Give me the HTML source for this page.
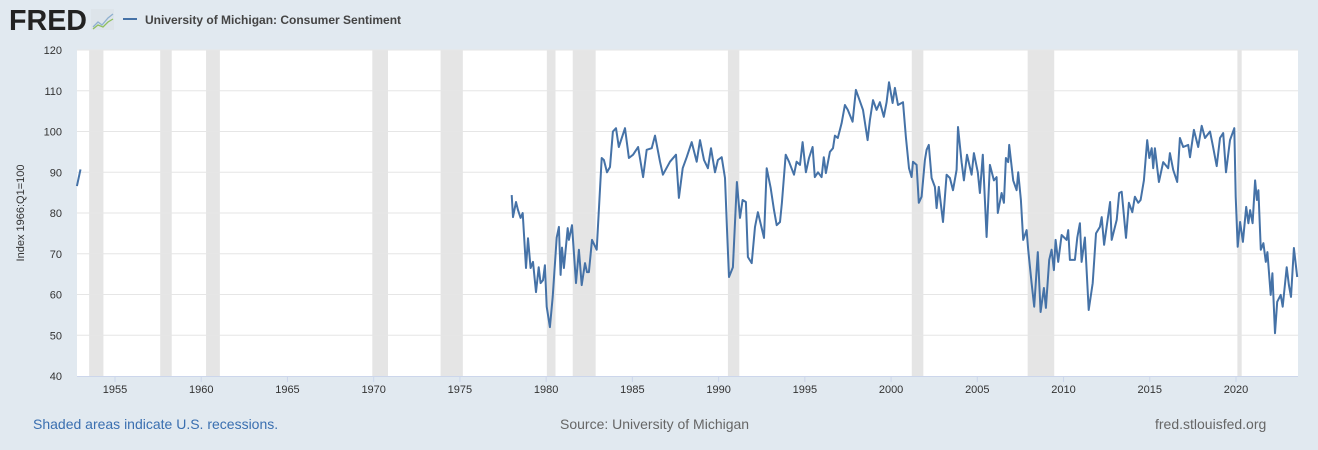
<!DOCTYPE html>
<html><head><meta charset="utf-8"><style>
body{margin:0;background:#e1e9f0;font-family:"Liberation Sans",Arial,sans-serif;}
svg{display:block}
</style></head><body>
<svg id="c" width="1318" height="450" viewBox="0 0 1318 450">
<rect x="0" y="0" width="1318" height="450" fill="#e1e9f0"/>
<g>
<text x="9" y="30" font-size="29" font-weight="bold" fill="#222" textLength="78" lengthAdjust="spacingAndGlyphs">FRED</text>
<rect x="91" y="9" width="23" height="21" fill="#dde4ea"/>
<polyline points="93,27 98,22 102,25 108,18 113,14" fill="none" stroke="#8fb0d0" stroke-width="1.3"/>
<polyline points="93,29 98,25 103,27 108,22 113,19" fill="none" stroke="#8fbf5f" stroke-width="1.3"/>
</g>
<line x1="123" y1="19" x2="137" y2="19" stroke="#4572a7" stroke-width="2"/>
<text x="145" y="24" font-size="12" font-weight="bold" fill="#444">University of Michigan: Consumer Sentiment</text>
<rect x="77" y="50" width="1221" height="326" fill="#fff"/>
<g id="rec"></g><g id="grid"></g><g id="yt"></g><g id="xt"></g><g id="ser"></g>
<text transform="translate(24,213) rotate(-90)" text-anchor="middle" font-size="11" fill="#333">Index 1966:Q1=100</text>
<text x="33" y="429" font-size="14" fill="#3a6fb0">Shaded areas indicate U.S. recessions.</text>
<text x="560" y="429" font-size="14" fill="#666">Source: University of Michigan</text>
<text x="1155" y="429" font-size="14" fill="#666">fred.stlouisfed.org</text>
</svg>
<script>
const yTicks=[40,50,60,70,80,90,100,110,120];
const xTicks=[1955,1960,1965,1970,1975,1980,1985,1990,1995,2000,2005,2010,2015,2020];
const recStart=[1953.5,1957.62,1960.28,1969.92,1973.88,1980.04,1981.54,1990.54,2001.2,2007.92,2020.08];
const recEnd=[1954.33,1958.29,1961.08,1970.83,1975.17,1980.54,1982.87,1991.2,2001.87,2009.46,2020.33];
const earlyDates=[1952.79,1953.0];
const earlyValues=[86.6,90.7];
const dates=[1978.00,1978.08,1978.25,1978.37,1978.52,1978.64,1978.83,1978.95,1979.10,1979.24,1979.41,1979.57,1979.68,1979.82,1979.93,1980.03,1980.22,1980.38,1980.61,1980.74,1980.84,1980.92,1981.03,1981.25,1981.32,1981.50,1981.73,1981.90,1982.06,1982.25,1982.37,1982.48,1982.66,1982.93,1983.22,1983.35,1983.53,1983.70,1983.87,1984.05,1984.21,1984.57,1984.80,1985.04,1985.33,1985.62,1985.83,1986.12,1986.31,1986.60,1986.77,1987.18,1987.53,1987.70,1987.92,1988.15,1988.44,1988.73,1988.92,1989.15,1989.38,1989.56,1989.79,1989.96,1990.18,1990.37,1990.48,1990.60,1990.83,1991.06,1991.24,1991.39,1991.58,1991.70,1991.92,1992.11,1992.28,1992.50,1992.63,1992.79,1993.02,1993.21,1993.37,1993.56,1993.67,1993.89,1994.08,1994.37,1994.52,1994.72,1994.87,1995.06,1995.24,1995.45,1995.58,1995.76,1995.97,1996.10,1996.22,1996.45,1996.63,1996.74,1996.91,1997.13,1997.32,1997.49,1997.77,1997.96,1998.13,1998.37,1998.64,1998.77,1998.95,1999.16,1999.35,1999.58,1999.74,1999.88,2000.09,2000.22,2000.40,2000.69,2000.86,2001.04,2001.19,2001.27,2001.48,2001.61,2001.77,2001.96,2002.06,2002.19,2002.35,2002.54,2002.64,2002.77,2003.01,2003.22,2003.41,2003.59,2003.80,2003.88,2004.09,2004.22,2004.40,2004.67,2004.80,2005.03,2005.15,2005.32,2005.54,2005.73,2005.96,2006.12,2006.19,2006.41,2006.54,2006.66,2006.79,2006.85,2007.08,2007.28,2007.37,2007.53,2007.66,2007.86,2007.95,2008.15,2008.30,2008.51,2008.67,2008.86,2008.98,2009.17,2009.31,2009.44,2009.54,2009.69,2009.89,2010.18,2010.27,2010.37,2010.66,2010.80,2010.95,2011.05,2011.24,2011.46,2011.69,2011.88,2012.11,2012.21,2012.35,2012.70,2012.79,2013.08,2013.23,2013.37,2013.62,2013.79,2013.99,2014.14,2014.33,2014.47,2014.66,2014.85,2014.97,2015.11,2015.20,2015.30,2015.53,2015.78,2016.07,2016.17,2016.36,2016.59,2016.75,2016.94,2017.23,2017.33,2017.56,2017.81,2018.01,2018.20,2018.49,2018.65,2018.88,2019.07,2019.26,2019.42,2019.65,2019.90,2019.98,2020.10,2020.24,2020.40,2020.59,2020.72,2020.82,2020.96,2021.11,2021.21,2021.30,2021.44,2021.59,2021.73,2021.82,2022.01,2022.11,2022.26,2022.39,2022.59,2022.71,2022.94,2023.07,2023.19,2023.36,2023.55];
const values=[84.4,79,82.7,80.7,78.8,80,66.5,73.8,66.5,68,60.6,66.7,62.8,63.5,67.2,57,52,59.4,74,76.6,64.8,71.5,66.5,76.3,73.4,77,62.8,71,62.3,67.7,65.5,65.5,73.4,71,93.5,93,90,91.3,100,100.8,96.2,100.8,93.5,94.3,96.2,88.8,95.5,95.9,99,92.6,89.4,92.6,94.3,83.7,91,93.7,97.4,92.6,97.9,93,91,95.9,90,93,93.7,88.6,76.6,64.3,66.7,87.6,78.8,83.2,82.7,69.2,67.7,76.6,80.2,76.3,73.9,91,86.1,80.7,77,77.8,82.5,94.3,92.6,89.4,92.6,91.8,97.4,90,93.5,96.2,88.8,90,88.8,93.7,89.8,95,95.9,99,98.4,102,106.5,105.3,102.4,110.2,108.2,105.3,97.9,102.8,107.7,105.3,107.2,103.6,107.2,112.1,107,110.7,106.5,107.2,98.6,91,88.8,92.6,91.8,82.5,84,93,95.5,96.7,88.6,86.4,81.2,86.4,77.8,89.4,88.6,85.6,90.6,101.1,92.5,88,94.3,89.4,94.7,90,84.9,94.3,74.1,91.8,88,88.8,80,84.9,82.5,93.5,92.5,96.7,88,85.6,90,83.2,73.4,75.8,71,62.8,57,70.4,55.7,61.6,56.7,68.5,71,66,73.4,68,74.6,73.4,75.8,68.5,68.5,74,77.5,68,74,56.2,62.8,75,76.6,79,72.2,82.7,73.4,78.3,84.9,85.2,73.9,82.5,80.2,84,82.5,83.2,88,97.9,93.5,95.9,91,95.9,87.6,92.5,91,94.7,90.6,87.6,98.4,96.2,96.7,93.7,100.4,96.2,101.4,98.4,100,96.7,91.5,98.4,99.6,90,97.9,100.8,84,71.7,77.8,72.9,81.5,77.5,80.7,77.5,88,83.2,85.6,71,72.6,68,70.4,59.9,65.2,50.5,58.2,59.9,57,66.7,62.3,59.4,71.4,64.3];

const X0=77,X1=1298,Y0=376,Y1=50;
const T0=1952.797,T1=2023.595;
function xs(t){return X0+(t-T0)/(T1-T0)*(X1-X0);}
function ys(v){return Y0-(v-40)/(120-40)*(Y0-Y1);}
const NS='http://www.w3.org/2000/svg';
function mk(tag,parent,attrs){const e=document.createElementNS(NS,tag);for(const k in attrs)e.setAttribute(k,attrs[k]);parent.appendChild(e);return e;}

const rec=document.getElementById('rec');
for(let i=0;i<recStart.length;i++){
  const a=Math.max(xs(recStart[i]),X0),b=xs(recEnd[i]);
  const r=mk('rect',rec,{x:a,y:Y1,width:b-a,height:Y0-Y1,fill:'#e5e5e5'});
  
  
}
const grid=document.getElementById('grid'),yt=document.getElementById('yt');
yTicks.forEach(v=>{
  const y=ys(v);
  if(v>40){const l=mk('line',grid,{x1:X0,x2:X1,y1:y,y2:y,stroke:'#e6e6e6','stroke-width':1});
  
  }
  const t=mk('text',yt,{x:62,y:y+4,'text-anchor':'end','font-size':11,fill:'#333'});
  t.textContent=v;
  
  
});
const xt=document.getElementById('xt');
const ax=mk('line',xt,{x1:X0,x2:X1,y1:Y0+0.5,y2:Y0+0.5,stroke:'#ccd6eb','stroke-width':1});


xTicks.forEach(yr=>{
  const x=xs(yr);
  const tk=mk('line',xt,{x1:x,x2:x,y1:Y0,y2:Y0+6,stroke:'#ccd6eb'});
  
  
  const t=mk('text',xt,{x:x,y:Y0+17,'text-anchor':'middle','font-size':11,fill:'#333'});
  t.textContent=yr;
  
  
});
const ser=document.getElementById('ser');
function pts(d,v){return d.map((t,i)=>xs(t).toFixed(1)+','+ys(v[i]).toFixed(1)).join(' ');}
const p1=mk('polyline',ser,{points:pts(earlyDates,earlyValues),fill:'none',stroke:'#4572a7','stroke-width':2,'stroke-linejoin':'round'});


const p2=mk('polyline',ser,{points:pts(dates,values),fill:'none',stroke:'#4572a7','stroke-width':2,'stroke-linejoin':'round'});


</script>
</body></html>
